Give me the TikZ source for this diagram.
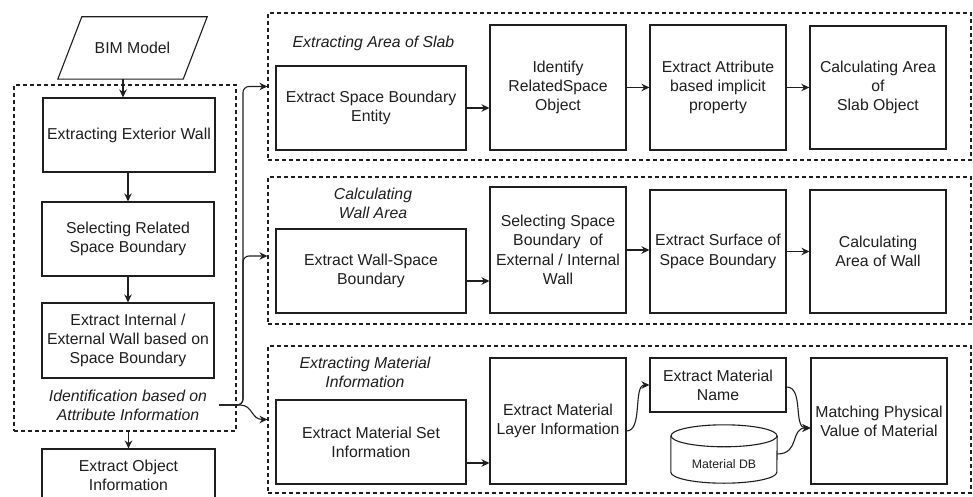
\documentclass[tikz,border=0pt]{standalone}
\usepackage{fontspec}
\setmainfont{Liberation Sans}
\usetikzlibrary{arrows.meta,calc}
\newcommand{\boxfont}{\fontsize{15.8pt}{19.3pt}\selectfont}
\newcommand{\dbfont}{\fontsize{12.3pt}{14pt}\selectfont}
\colorlet{ink}{black!88}
\tikzset{
  box/.style={draw=ink, text=ink, line width=1.1pt, inner sep=1pt, align=center, font=\boxfont},
  grp/.style={draw=ink, line width=1.1pt, dash pattern=on 4pt off 3pt},
  ttl/.style={inner sep=0pt, text=ink, align=center, font=\boxfont\itshape},
  arr/.style={draw=ink, line width=1.1pt, -{Stealth[length=8pt,width=7.5pt]}},
}
\begin{document}
\begin{tikzpicture}[x=1pt, y=-1pt]
\clip (0,0) rectangle (973,497);
\fill[white] (0,0) rectangle (973,497);

% ---- left column ----
\node[grp, minimum width=222pt, minimum height=346pt] (lgrp) at (125,258) {};
\node[inner sep=0pt, text=ink, minimum width=149pt, minimum height=62pt, font=\boxfont] (bim) at (132.5,48) {BIM Model};
\draw[ink, line width=1.1pt] (bim.south west) -- ($(bim.south east)+(-24,0)$) -- (bim.north east) -- ($(bim.north west)+(24,0)$) -- cycle;
\node[box, minimum width=172pt, minimum height=74pt] (ew) at (129,135) {Extracting Exterior Wall};
\node[box, minimum width=172pt, minimum height=74pt] (srb) at (128,239) {Selecting Related\\Space Boundary};
\node[box, minimum width=172pt, minimum height=75pt] (eiw) at (128,340.5) {Extract Internal /\\External Wall based on\\Space Boundary};
\node[ttl] (idlab) at (128,405) {Identification based on\\Attribute Information};
\node[box, minimum width=173pt, minimum height=53pt] (eoi) at (128.5,475.5) {Extract Object\\Information};

\draw[arr] ($(bim.south)+(-9.5,0)$) -- ($(ew.north)+(-6,0)$);
\draw[arr] (ew.south -| srb.north) -- (srb.north);
\draw[arr] (srb.south) -- (eiw.north);
\draw[arr] (eoi.north |- lgrp.south) -- (eoi.north);

% ---- slab area group ----
\node[grp, minimum width=703pt, minimum height=147pt] (slab) at (619.5,86.5) {};
\node[ttl] (slabt) at (373.5,43) {Extracting Area of Slab};
\node[box, minimum width=190pt, minimum height=84pt] (sb1) at (371,108) {Extract Space Boundary\\Entity};
\node[box, minimum width=136pt, minimum height=125pt] (sb2) at (558,87.5) {Identify\\RelatedSpace\\Object};
\node[box, minimum width=136pt, minimum height=125pt] (sb3) at (718,87.5) {Extract Attribute\\based implicit\\property};
\node[box, line width=1.4pt, minimum width=136pt, minimum height=123pt] (sb4) at (878,87.5) {Calculating Area\\of\\Slab Object};
\draw[arr] (sb1.east) -- (sb1.east -| sb2.west);
\draw[arr] (sb2.east) -- (sb2.east -| sb3.west);
\draw[arr] (sb3.east) -- (sb3.east -| sb4.west);

% ---- wall area group ----
\node[grp, minimum width=703pt, minimum height=147pt] (wall) at (619.5,250.5) {};
\node[ttl] (wallt) at (373,203.5) {Calculating\\Wall Area};
\node[box, minimum width=190pt, minimum height=84pt] (wb1) at (371,271) {Extract Wall-Space\\Boundary};
\node[box, minimum width=136pt, minimum height=126pt] (wb2) at (558,250) {Selecting Space\\Boundary\ \ of\\External / Internal\\Wall};
\node[box, minimum width=136pt, minimum height=123pt] (wb3) at (718,251.5) {Extract Surface of\\Space Boundary};
\node[box, minimum width=136pt, minimum height=123pt] (wb4) at (878,251.5) {Calculating\\Area of Wall};
\draw[arr] ([yshift=-10pt]wb1.east) -- ([yshift=-10pt]wb1.east -| wb2.west);
\draw[arr] (wb2.east) -- (wb2.east -| wb3.west);
\draw[arr] (wb3.east) -- (wb3.east -| wb4.west);

% ---- material group ----
\node[grp, minimum width=703pt, minimum height=147pt] (mat) at (619.5,419.5) {};
\node[ttl] (matt) at (365,372.5) {Extracting Material\\Information};
\node[box, minimum width=190pt, minimum height=84pt] (mb1) at (371,442) {Extract Material Set\\Information};
\node[box, minimum width=136pt, minimum height=126pt] (mb2) at (558,421) {Extract Material\\Layer Information};
\node[box, minimum width=136pt, minimum height=54pt] (mb3) at (718,385) {Extract Material\\Name};
\node[box, minimum width=136pt, minimum height=126pt] (mb4) at (879,421) {Matching Physical\\Value of Material};

% material database cylinder
\node[inner sep=0pt, minimum width=106pt, minimum height=58pt] (db) at (724,454) {};
\draw[ink, line width=1.1pt, fill=white] (db.north west) ++(0,11) -- ($(db.south west)+(0,-11)$)
  arc[start angle=180, end angle=360, x radius=53pt, y radius=11pt] -- ($(db.north east)+(0,11)$);
\draw[ink, line width=1.1pt] ($(db.north)+(0,11)$) ellipse[x radius=53pt, y radius=11pt];
\node[inner sep=0pt, text=ink, font=\dbfont] (dbl) at (724,464) {Material DB};

\draw[arr] ([yshift=-21pt]mb1.east) -- ([yshift=-21pt]mb1.east -| mb2.west);
\draw[arr] ([yshift=-10pt]mb2.east) .. controls (643,431) and (633,385) .. (mb3.west);
\draw[arr] ([yshift=-2pt]mb3.east) .. controls (804,387) and (793,428) .. ([yshift=-7pt]mb4.west);
\draw[arr] (db.east) .. controls (800,454) and (790,428) .. ([yshift=-7pt]mb4.west);

% ---- branches from the attribute identification ----
\coordinate (src) at (219,405);
\draw[arr, rounded corners=6pt] (src) -- (243,405) -- (243,86.5) -- (slab.west);
\draw[arr, rounded corners=6pt] (src) -- (243,405) -- (243,256) -- (wall.west |- 0,256);
\draw[arr] (src) -- (240,405) .. controls (253,405) and (251,419.5) .. (mat.west);
\end{tikzpicture}
\end{document}
